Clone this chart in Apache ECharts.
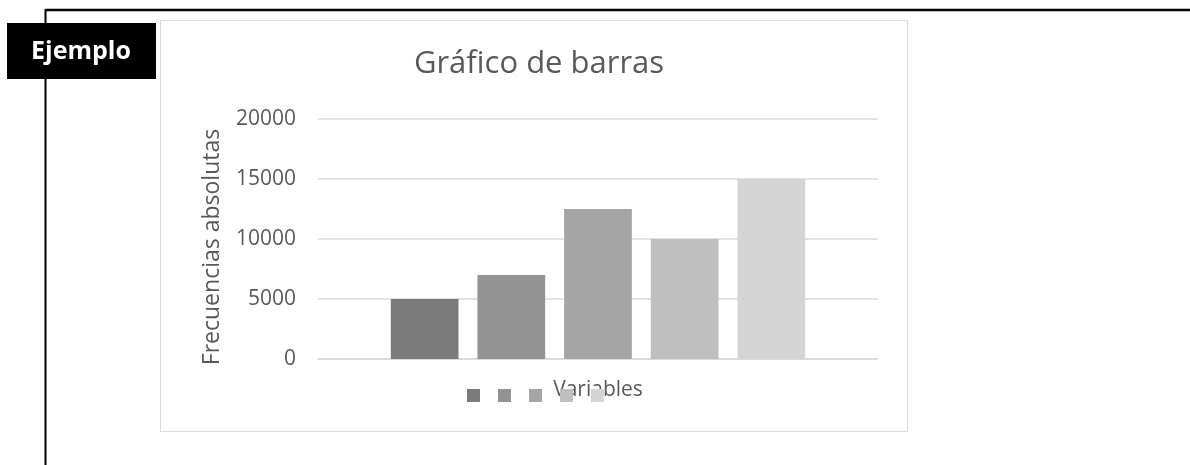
<!DOCTYPE html>
<html>
<head>
<meta charset="utf-8">
<script src="https://cdn.jsdelivr.net/npm/echarts@6/dist/echarts.min.js"></script>
<style>
html,body{margin:0;padding:0;background:#fff;}
#chart{width:1190px;height:465px;}
</style>
</head>
<body>
<div id="chart"></div>
<script>
const categories = ['Variables'];
const seriesNames = ['Serie 1', 'Serie 2', 'Serie 3', 'Serie 4', 'Serie 5'];
const seriesValues = [5000, 7000, 12500, 10000, 15000];
const seriesColors = ['#7b7b7b', '#939393', '#a5a5a5', '#bfbfbf', '#d4d4d4'];
const yTicks = [0, 5000, 10000, 15000, 20000];

const chart = echarts.init(document.getElementById('chart'), null, {renderer: 'canvas'});
const FONT = '"Open Sans", sans-serif';
const TXT = '#595959';

const series = seriesValues.map((v, i) => ({
  name: seriesNames[i],
  type: 'bar',
  data: [v],
  itemStyle: {color: seriesColors[i]},
  barGap: '28%',
  barCategoryGap: '26%',
  emphasis: {disabled: true}
}));

chart.setOption({
  animation: false,
  title: {
    text: 'Gráfico de barras',
    left: 534, top: 44, textAlign: 'center',
    textStyle: {fontFamily: FONT, fontSize: 31, fontWeight: 'normal', color: TXT}
  },
  legend: {
    data: seriesNames,
    left: 467, top: 389,
    padding: 0,
    itemWidth: 13, itemHeight: 13, itemGap: 18,
    icon: 'rect',
    formatter: () => '',
    selectedMode: false,
    z: 10
  },
  grid: {left: 318, right: 312, top: 119, bottom: 106, containLabel: false},
  xAxis: {
    type: 'category',
    data: categories,
    name: 'Variables',
    nameLocation: 'middle',
    nameGap: 21,
    nameTextStyle: {fontFamily: FONT, fontSize: 21, color: TXT},
    axisLine: {lineStyle: {color: '#d9d9d9', width: 1.5}},
    axisTick: {show: false},
    axisLabel: {show: false}
  },
  yAxis: {
    type: 'value',
    min: yTicks[0], max: yTicks[yTicks.length - 1], interval: 5000,
    name: 'Frecuencias absolutas',
    nameLocation: 'middle',
    nameGap: 94,
    nameRotate: 90,
    nameTextStyle: {fontFamily: FONT, fontSize: 23, color: TXT, padding: [0, 16, 0, 0]},
    axisLine: {show: false},
    axisTick: {show: false},
    axisLabel: {fontFamily: FONT, fontSize: 21, color: TXT, margin: 22, formatter: v => String(v)},
    splitLine: {lineStyle: {color: '#d9d9d9', width: 1.5}}
  },
  graphic: [
    {type: 'rect', shape: {x: 160.5, y: 20.5, width: 747, height: 411}, style: {fill: null, stroke: '#d9d9d9', lineWidth: 1}, z: -10},
    {type: 'line', shape: {x1: 45.5, y1: 10, x2: 1190, y2: 10}, style: {stroke: '#000', lineWidth: 2.5}},
    {type: 'line', shape: {x1: 45.5, y1: 9, x2: 45.5, y2: 465}, style: {stroke: '#000', lineWidth: 2}},
    {type: 'rect', shape: {x: 7, y: 23, width: 149, height: 56}, style: {fill: '#000'}, z: 5},
    {type: 'text', x: 81, y: 52, z: 6, style: {text: 'Ejemplo', fill: '#fff', font: 'bold 25px "Open Sans", sans-serif', textAlign: 'center', textVerticalAlign: 'middle'}}
  ],
  series: series
});
</script>
</body>
</html>
